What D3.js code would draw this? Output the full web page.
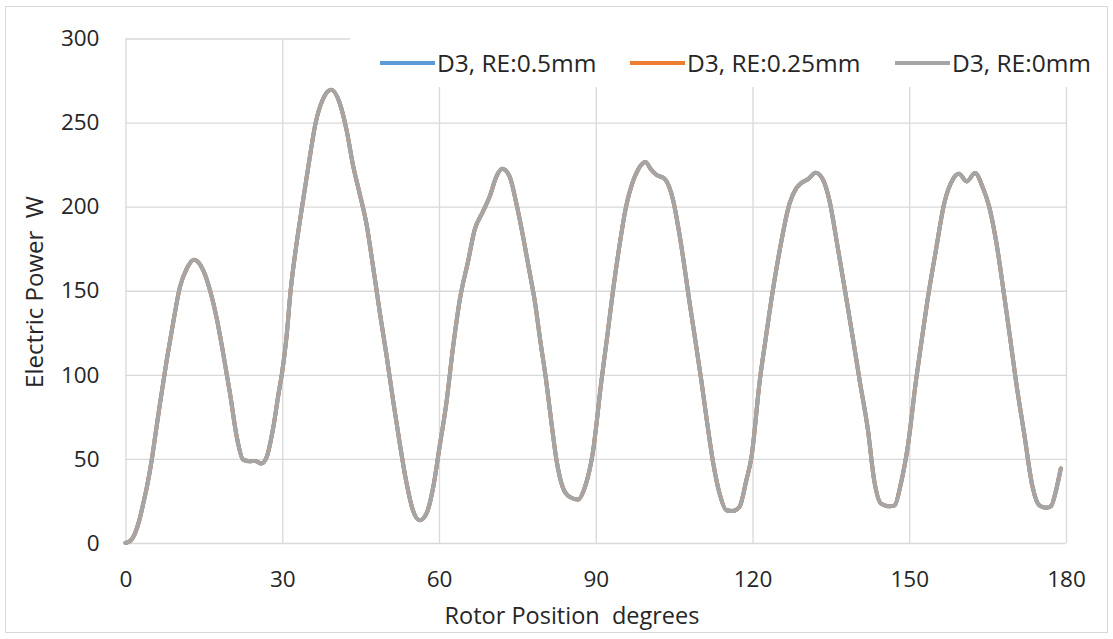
<!DOCTYPE html>
<html>
<head>
<meta charset="utf-8">
<script src="https://cdn.jsdelivr.net/npm/d3@7"></script>
<style>
  body { margin: 0; background: #fff; }
  text { font-family: "Open Sans", sans-serif; fill: #262626; white-space: pre; }
</style>
</head>
<body>
<svg id="chart" width="1113" height="639"></svg>
<script>
// rotor angle (degrees)
const angle = [0, 1.0, 1.8, 2.6, 3.4, 4.2, 5.0, 5.8, 6.6, 7.9, 9.1, 10.4, 11.7, 13.1, 14.9, 16.2, 17.4, 18.7, 20.0, 21.3,
  22.5, 23.8, 24.8, 26.0, 27.0, 28.3, 29.3, 30.0, 30.8, 31.6, 32.6, 33.8, 35.0, 36.4, 37.8, 39.4, 41.0, 42.3, 43.6, 44.8,
  46.1, 47.4, 48.7, 50.0, 51.2, 52.5, 53.8, 55.0, 56.3, 57.6, 58.9, 60.1, 61.4, 62.7, 64.0, 65.6, 66.8, 68.4, 69.7, 71.0,
  72.1, 73.5, 74.8, 76.1, 77.4, 78.3, 79.4, 80.5, 81.5, 82.5, 83.7, 85.0, 86.6, 87.9, 89.4, 91.1, 92.2, 93.3, 94.5, 95.8,
  97.0, 98.1, 99.5, 100.6, 101.6, 103.2, 104.8, 106.0, 108.1, 110.2, 111.3, 112.4, 113.7, 115.0, 116.2, 117.5, 118.8, 119.8, 121.4, 122.5,
  123.6, 125.2, 127.1, 128.4, 129.3, 130.6, 132.1, 133.5, 134.7, 136.3, 137.9, 139.2, 140.5, 142.1, 143.3, 144.6, 146.2, 147.2, 148.4, 149.7,
  151.3, 152.4, 153.5, 155.1, 156.7, 158.3, 159.5, 161.0, 162.6, 164.0, 165.3, 166.6, 168.2, 169.3, 170.4, 172.0, 173.6, 174.9, 176.2, 177.1,
  178.1, 179.0]

// electric power (W), RE 0mm (grey, drawn on top)
const powerRE0 = [0, 1.5, 5.6, 13, 23.5, 35, 49, 66, 83, 109, 130.6, 152, 163, 168.5, 162, 150, 134.5, 112.7, 89, 63,
  49.6, 48.6, 48.8, 47.3, 51, 69, 89, 102, 122, 150, 175, 200, 224, 250, 264, 269.5, 261.5, 245.7, 223.8, 208,
  190, 164, 136.5, 110.7, 85, 59, 35.4, 19.5, 13.5, 17.5, 33.3, 57, 83, 116.7, 145, 168, 186, 197, 206, 218,
  222.5, 218, 202, 182, 160, 144.5, 120, 96.8, 72, 49, 33, 27.4, 25.8, 33, 53, 96.8, 123, 150, 176, 200,
  214, 222, 226.5, 222, 219, 216.5, 204, 184, 140, 96.8, 72, 49, 29.4, 19.5, 19, 21.4, 37, 51, 96.8, 121,
  144.5, 174, 202, 211, 214, 216.3, 220.2, 216, 204, 176, 146.4, 122, 96.8, 67, 37, 23.4, 21.8, 22.4, 35.4, 57,
  96.8, 121, 144.5, 174, 202, 216, 219.5, 215, 220, 212, 200, 180, 146.4, 122, 96.8, 65, 33.3, 22.4, 21, 21.8,
  31.4, 44.3]

// the 0.5mm and 0.25mm curves are hidden under the grey one, they coincide with it
const powerRE05 = powerRE0
const powerRE025 = powerRE0

const seriesNames = ['D3, RE:0.5mm', 'D3, RE:0.25mm', 'D3, RE:0mm']
const seriesColors = ['#5b9bd5', '#ed7d31', '#a5a5a5']
const xTicks = [0, 30, 60, 90, 120, 150, 180]
const yTicks = [0, 50, 100, 150, 200, 250, 300]

const series = [powerRE05, powerRE025, powerRE0].map((vals, i) => ({
  name: seriesNames[i],
  color: seriesColors[i],
  points: angle.map((a, j) => ({ a: a, p: vals[j] }))
}))

const margins = { left: 125.5, top: 38.5, right: 47, bottom: 96 }
const fullWidth = 1113
const fullHeight = 639
const width = fullWidth - margins.left - margins.right
const height = fullHeight - margins.top - margins.bottom

const svg = d3.select('#chart')

// outer chart border
svg.append('rect')
  .attr('x', 5.5).attr('y', 6.5)
  .attr('width', 1102).attr('height', 626)
  .attr('fill', '#fff')
  .attr('stroke', '#d9d9d9')

const g = svg.append('g')
  .attr('transform', `translate(${margins.left},${margins.top})`)

const x = d3.scaleLinear().domain([0, 180]).range([0, width])
const y = d3.scaleLinear().domain([0, 300]).range([height, 0])

// grid + axes
const xAxis = g.append('g')
  .attr('transform', `translate(0,${height})`)
  .call(d3.axisBottom(x).tickValues(xTicks).tickSizeInner(-height).tickSizeOuter(0).tickPadding(26))
const yAxis = g.append('g')
  .call(d3.axisLeft(y).tickValues(yTicks).tickSizeInner(-width).tickSizeOuter(0).tickPadding(26))

;[xAxis, yAxis].forEach(ax => {
  ax.select('.domain').remove()
  ax.selectAll('line').attr('stroke', '#d9d9d9').attr('stroke-width', 1.3)
  ax.selectAll('text').style('font-size', '22.5px').attr('fill', '#262626')
})
xAxis.selectAll('text').attr('dy', '0.35em').attr('y', 36)

// lines
const line = d3.line()
  .x(d => x(d.a))
  .y(d => y(d.p))
  .curve(d3.curveMonotoneX)

g.selectAll('path.series')
  .data(series)
  .enter()
  .append('path')
  .attr('class', 'series')
  .attr('d', d => line(d.points))
  .attr('fill', 'none')
  .attr('stroke', d => d.color)
  .attr('stroke-width', 4)
  .attr('stroke-linejoin', 'round')
  .attr('stroke-linecap', 'round')

// legend sits on top of the plot area, with white behind it
const legend = svg.append('g')
legend.append('rect')
  .attr('x', 350).attr('y', 32)
  .attr('width', 750).attr('height', 55)
  .attr('fill', '#fff')

const legendX = [380, 630, 895]
const legendItems = legend.selectAll('g.item')
  .data(series)
  .enter()
  .append('g')
  .attr('class', 'item')
  .attr('transform', (d, i) => `translate(${legendX[i]},63)`)
legendItems.append('line')
  .attr('x1', 0).attr('x2', 55)
  .attr('stroke', d => d.color)
  .attr('stroke-width', 4)
legendItems.append('text')
  .attr('x', 57)
  .attr('dy', '0.35em')
  .style('font-size', '24.5px')
  .text(d => d.name)

// axis titles
svg.append('text')
  .attr('x', 572).attr('y', 616)
  .attr('text-anchor', 'middle')
  .attr('dy', '0.35em')
  .style('font-size', '23.5px')
  .text('Rotor Position  degrees')

svg.append('text')
  .attr('transform', 'translate(35,292) rotate(-90)')
  .attr('text-anchor', 'middle')
  .attr('dy', '0.35em')
  .style('font-size', '24px')
  .text('Electric Power  W')
</script>
</body>
</html>
